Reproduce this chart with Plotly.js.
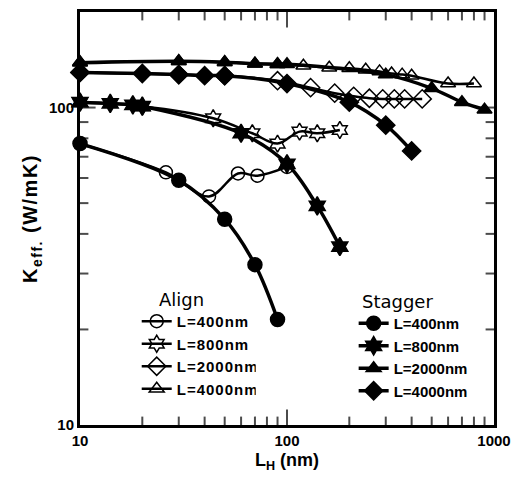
<!DOCTYPE html>
<html>
<head>
<meta charset="utf-8">
<script src="https://cdn.plot.ly/plotly-3.0.1.min.js"></script>
<style>html,body{margin:0;padding:0;background:#fff;}#chart{width:522px;height:477px;}
#chart .legendtext{letter-spacing:1px;}
#chart .ytitle{letter-spacing:1.5px;}</style>
</head>
<body>
<div id="chart"></div>
<script>
// ---- data ----
const alignX400 = [10, 26, 42, 58, 72, 100];
const alignY400 = [77, 62.5, 52.5, 62, 61, 65];
const alignX800 = [10, 20, 44, 68, 90, 115, 140, 180];
const alignY800 = [104, 101, 92.5, 83, 77, 84, 83, 85];
const alignX2000 = [10, 30, 50, 90, 130, 170, 210, 250, 290, 330, 370, 450];
const alignY2000 = [129, 127, 126, 121.5, 115.5, 111, 108.5, 107, 106.5, 106.5, 106.5, 106.5];
const alignX4000 = [10, 30, 50, 70, 90, 120, 160, 200, 240, 280, 320, 360, 400, 600, 800];
const alignY4000 = [139, 140, 139, 137.5, 137, 135.5, 133.5, 133, 131.5, 130, 128, 127, 126, 119, 119];

const stagX400 = [10, 30, 50, 70, 90];
const stagY400 = [77, 59, 44.5, 32, 21.5];
const stagX800 = [10, 14, 18, 20, 60, 100, 140, 180];
const stagY800 = [104, 103, 102, 101, 83, 66.5, 49, 36.5];
const stagX2000 = [10, 30, 50, 70, 90, 100, 300, 500, 700, 900];
const stagY2000 = [138.5, 140, 139, 137.5, 137, 137, 127, 115, 104, 98.5];
const stagX4000 = [10, 20, 30, 40, 50, 100, 200, 300, 400];
const stagY4000 = [129, 128, 127, 126, 126, 119, 104, 88, 73];

const legendLabels = ['L=400nm', 'L=800nm', 'L=2000nm', 'L=4000nm'];
const groupTitles = ['Align', 'Stagger'];
const xDecades = [10, 100, 1000];
const yDecades = [10, 100];
const xAllTicks = [20,30,40,50,60,70,80,90,100,200,300,400,500,600,700,800,900];
const yAllTicks = [20,30,40,50,60,70,80,90,100];

// axis ranges (log10 units) and plot-area size in px
const xRange = [1, 3];
const yRange = [1, Math.log10(200)];
const PW = 414, PH = 413;

// tick marks as line-shaped markers, built from the tick arrays
const pxPerDecX = PW / (xRange[1] - xRange[0]);
const pxPerDecY = PH / (yRange[1] - yRange[0]);
const tkX = [], tkY = [], tkS = [], tkSym = [];
xAllTicks.forEach(function (v) {
  const len = xDecades.includes(v) ? 13 : 7;
  const d = (len / 2) / pxPerDecY;
  tkX.push(v, v);
  tkY.push(Math.pow(10, yRange[0] + d), Math.pow(10, yRange[1] - d));
  tkS.push(len, len);
  tkSym.push('line-ns', 'line-ns');
});
yAllTicks.forEach(function (v) {
  const len = yDecades.includes(v) ? 13 : 7;
  const d = (len / 2) / pxPerDecX;
  tkX.push(Math.pow(10, xRange[0] + d), Math.pow(10, xRange[1] - d));
  tkY.push(v, v);
  tkS.push(len, len);
  tkSym.push('line-ew', 'line-ew');
});

function tr(x, y, name, symbol, size, lw, legend) {
  return {
    x: x, y: y, name: name, type: 'scatter', mode: 'lines+markers',
    line: {color: '#000', width: lw, shape: 'spline', smoothing: 1},
    marker: {symbol: symbol, size: size, color: '#000', line: {color: '#000', width: 1.5}},
    legend: legend, cliponaxis: false
  };
}

const data = [
  {x: tkX, y: tkY, type: 'scatter', mode: 'markers', showlegend: false, hoverinfo: 'skip', cliponaxis: false,
   marker: {symbol: tkSym, size: tkS, color: '#000', line: {color: '#000', width: 2}}},
  tr(stagX400, stagY400, legendLabels[0], 'circle', 14, 3.5, 'legend2'),
  tr(stagX800, stagY800, legendLabels[1], 'hexagram', 14, 3.5, 'legend2'),
  tr(stagX2000, stagY2000, legendLabels[2], 'triangle-up', 13, 3.5, 'legend2'),
  tr(stagX4000, stagY4000, legendLabels[3], 'diamond', 14, 3.5, 'legend2'),
  tr(alignX400, alignY400, legendLabels[0], 'circle-open', 13, 2.5, 'legend'),
  tr(alignX800, alignY800, legendLabels[1], 'hexagram-open', 13, 2.5, 'legend'),
  tr(alignX2000, alignY2000, legendLabels[2], 'diamond-open', 14, 2.5, 'legend'),
  tr(alignX4000, alignY4000, legendLabels[3], 'triangle-up-open', 13, 2.5, 'legend')
];

const FAM = 'Liberation Sans, Arial, sans-serif';
const tickFont = {family: FAM, size: 15, color: '#000', weight: 'bold'};
const legFont = {family: FAM, size: 15, color: '#000', weight: 'bold'};

const layout = {
  width: 522, height: 477,
  margin: {l: 80, r: 28, t: 12, b: 52},
  paper_bgcolor: '#fff', plot_bgcolor: '#fff',
  showlegend: true,
  xaxis: {
    type: 'log', range: xRange, tickmode: 'array', tickvals: xDecades, ticktext: xDecades.map(String),
    ticks: '', showline: true, linewidth: 3, linecolor: '#000', mirror: true,
    showgrid: false, zeroline: false, tickfont: tickFont,
    title: {text: 'L<sub>H</sub> (nm)', font: {family: FAM, size: 18, color: '#000', weight: 'bold'}, standoff: 6}
  },
  yaxis: {
    type: 'log', range: yRange, tickmode: 'array', tickvals: yDecades, ticktext: yDecades.map(String),
    ticks: '', showline: true, linewidth: 3, linecolor: '#000', mirror: true,
    showgrid: false, zeroline: false, tickfont: tickFont,
    title: {text: 'K<sub>eff.</sub> (W/mK)', font: {family: FAM, size: 20, color: '#000', weight: 'bold'}, standoff: 6}
  },
  legend: {x: 0.137, y: 0.2906, xanchor: 'left', yanchor: 'top', bgcolor: 'rgba(0,0,0,0)', borderwidth: 0, font: legFont, tracegroupgap: 0},
  legend2: {x: 0.661, y: 0.2857, xanchor: 'left', yanchor: 'top', bgcolor: 'rgba(0,0,0,0)', borderwidth: 0, font: legFont, tracegroupgap: 0},
  annotations: [
    {text: groupTitles[0], xref: 'paper', yref: 'paper', x: 0.246, y: 0.305, xanchor: 'center', yanchor: 'middle', showarrow: false, font: {family: 'DejaVu Sans, Verdana, sans-serif', size: 18, color: '#000'}},
    {text: groupTitles[1], xref: 'paper', yref: 'paper', x: 0.768, y: 0.300, xanchor: 'center', yanchor: 'middle', showarrow: false, font: {family: 'DejaVu Sans, Verdana, sans-serif', size: 18, color: '#000'}}
  ]
};

Plotly.newPlot('chart', data, layout, {displayModeBar: false});
</script>
</body>
</html>
